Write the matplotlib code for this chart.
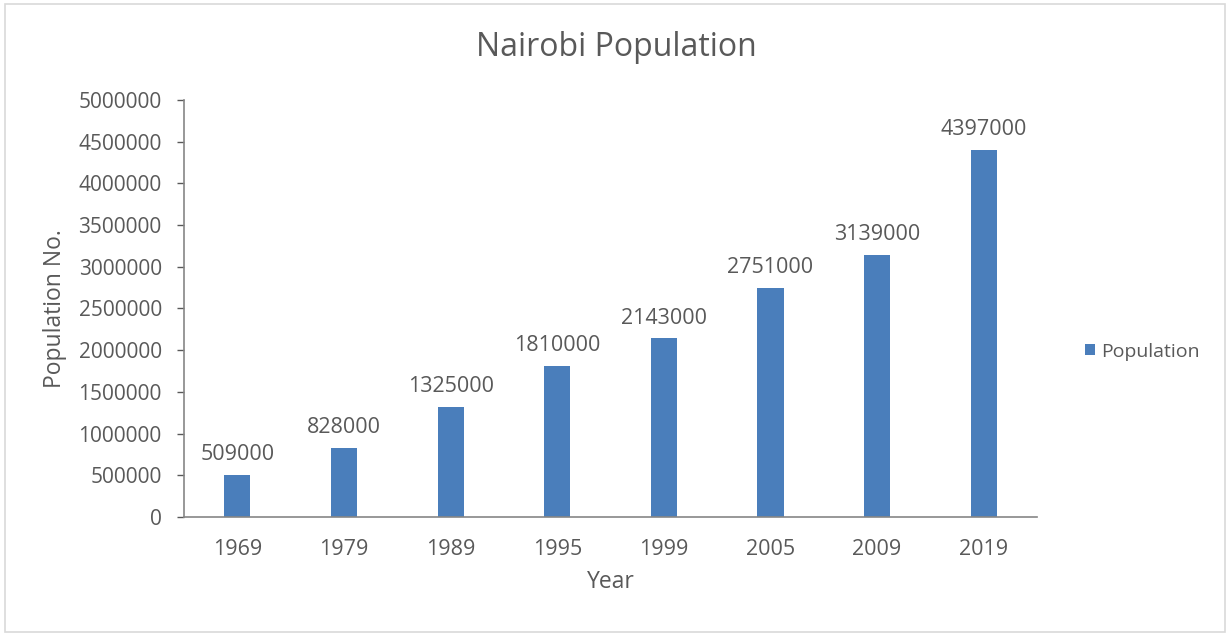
import matplotlib
matplotlib.use("Agg")
import matplotlib.pyplot as plt
from matplotlib.patches import Rectangle

years = ["1969", "1979", "1989", "1995", "1999", "2005", "2009", "2019"]
population = [509000, 828000, 1325000, 1810000, 2143000, 2751000, 3139000, 4397000]
yticks = list(range(0, 5000001, 500000))

grey = "#595959"
bar_color = "#4A7EBB"

plt.rcParams["font.family"] = ["Open Sans", "DejaVu Sans"]

fig = plt.figure(figsize=(12.3, 6.36), dpi=100)
ax = fig.add_axes([0.1496, 0.187, 0.6935, 0.656])

x = range(len(years))
bars = ax.bar(x, population, width=0.245, color=bar_color, label="Population", zorder=2)
for xi, v in zip(x, population):
    ax.annotate(str(v), (xi, v), xytext=(0, 7), textcoords="offset points",
                ha="center", va="bottom", fontsize=15.5, color=grey)

ax.set_xlim(-0.5, len(years) - 0.5)
ax.set_ylim(0, 5000000)
ax.set_yticks(yticks)
ax.set_yticklabels([str(t) for t in yticks])
ax.set_xticks(list(x))
ax.set_xticklabels(years)
ax.tick_params(axis="y", colors=grey, labelsize=15, length=5, width=1, pad=11)
ax.tick_params(axis="x", colors=grey, labelsize=15.5, length=0, pad=16)
for s in ["top", "right"]:
    ax.spines[s].set_visible(False)
for s in ["left", "bottom"]:
    ax.spines[s].set_color("#868686")
    ax.spines[s].set_linewidth(1.2)

ax.set_xlabel("Year", fontsize=16.5, color=grey, labelpad=7)
ax.set_ylabel("Population No.", fontsize=16.5, color=grey, labelpad=8)
fig.text(0.501, 0.926, "Nairobi Population", ha="center", va="center",
         fontsize=23, color=grey)

fig.legend(handles=[bars], labels=["Population"], loc="center left",
           bbox_to_anchor=(0.868, 0.447), frameon=False, fontsize=14,
           handlelength=0.5, handleheight=0.5, handletextpad=0.3,
           labelcolor=grey)

# light frame around the whole chart
fig.patches.append(Rectangle((0.004, 0.006), 0.992, 0.988, transform=fig.transFigure,
                             fill=False, edgecolor="#d9d9d9", linewidth=1.2))

fig.savefig("out.png", dpi=100)
